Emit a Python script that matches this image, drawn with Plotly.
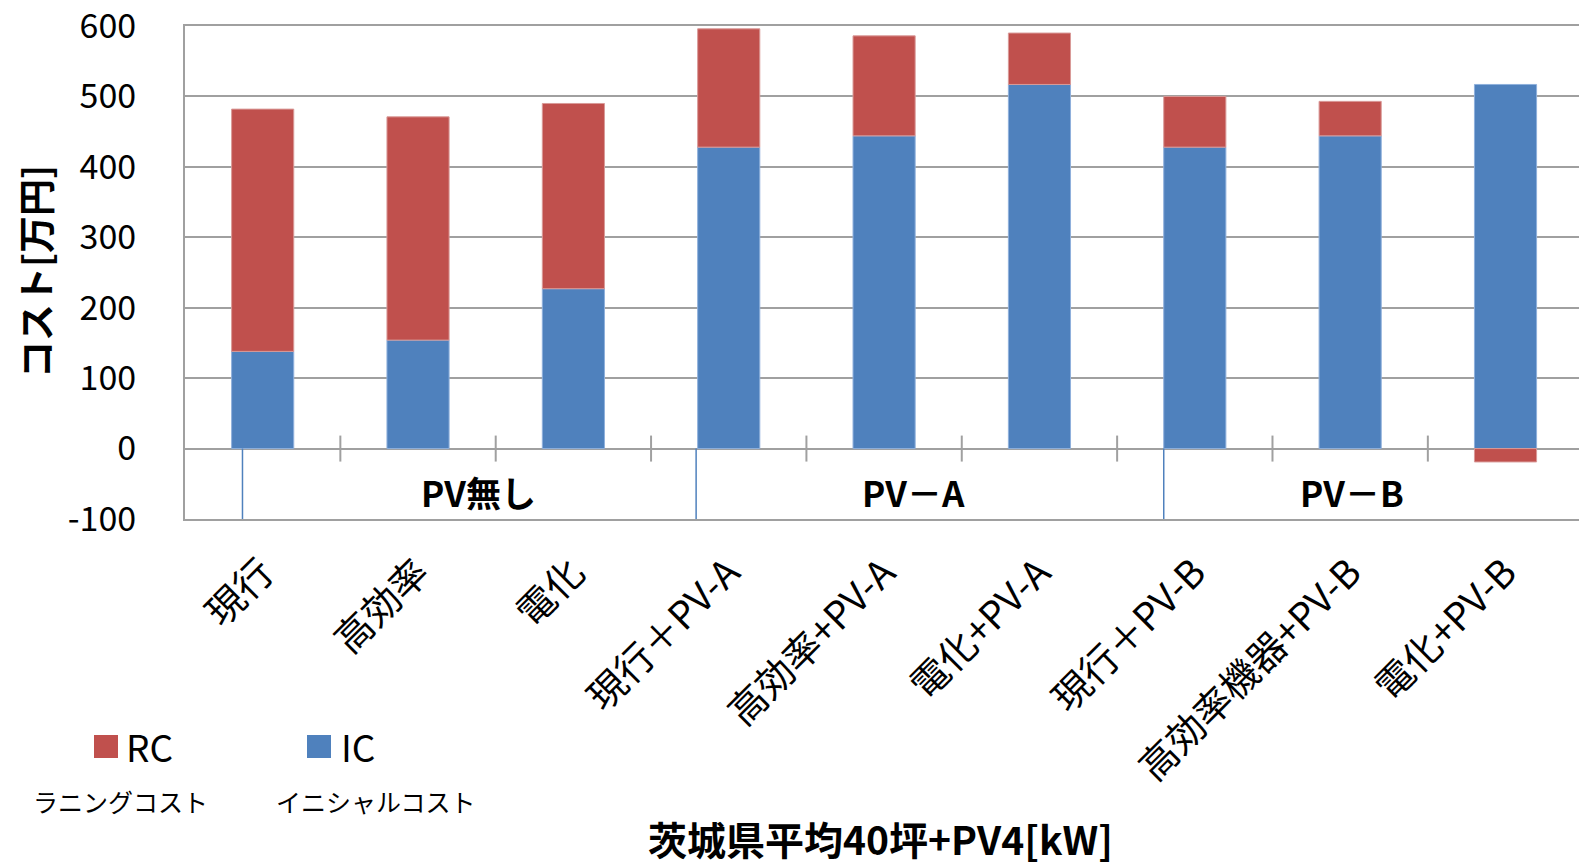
import plotly.graph_objects as go

# Cost breakdown per case (万円)
categories = ["現行", "高効率", "電化",
              "現行＋PV-A", "高効率+PV-A", "電化+PV-A",
              "現行＋PV-B", "高効率機器+PV-B", "電化+PV-B"]
ic_values = [138, 154, 227, 428, 444, 517, 428, 444, 517]   # イニシャルコスト
rc_values = [344, 317, 263, 168, 142, 73, 72, 49, -19]      # ラニングコスト
group_names = ["PV無し", "PV－A", "PV－B"]
y_ticks = [-100, 0, 100, 200, 300, 400, 500, 600]

BLUE = "#4f81bd"
RED = "#c0504d"
GRID = "#a0a0a0"
FONT = "Noto Sans CJK JP"

W, H = 1579, 867
ML, MR, MT, MB = 185, 0, 26, 348
PW, PH = W - ML - MR, H - MT - MB


def px_x(px):
    return (px - ML) / PW


def px_y(py):
    return (H - MB - py) / PH


def label(px, py, text, size, xanchor="center", angle=0):
    return dict(x=px_x(px), y=px_y(py), xref="paper", yref="paper", text=text,
                xanchor=xanchor, yanchor="middle", textangle=angle, showarrow=False,
                font=dict(family=FONT, size=size, color="black"))


x_pos = list(range(len(categories)))

fig = go.Figure()
fig.add_trace(go.Bar(
    x=x_pos, y=ic_values, name="IC", marker_color=BLUE,
    marker_line=dict(color="#8fb0dc", width=1), width=0.4, showlegend=False,
))
fig.add_trace(go.Bar(
    x=x_pos, y=rc_values, name="RC", marker_color=RED,
    marker_line=dict(color="#d99a98", width=1), width=0.4, showlegend=False,
))

shapes = []
# category boundary ticks crossing the zero line
for b in range(len(categories) - 1):
    shapes.append(dict(type="line", xref="x", yref="y", ysizemode="pixel", yanchor=0,
                       x0=b + 0.5, x1=b + 0.5, y0=-13, y1=13,
                       line=dict(color=GRID, width=2), layer="above"))
# group separators below the zero line
for sx in [-0.13, 2.79, 5.80]:
    shapes.append(dict(type="line", xref="x", yref="y", x0=sx, x1=sx, y0=0, y1=-100,
                       line=dict(color=BLUE, width=1.5)))

# legend swatches
shapes.append(dict(type="rect", xref="paper", yref="paper",
                   x0=px_x(94), x1=px_x(118), y0=px_y(758), y1=px_y(735),
                   fillcolor=RED, line=dict(width=0)))
shapes.append(dict(type="rect", xref="paper", yref="paper",
                   x0=px_x(307), x1=px_x(331), y0=px_y(758), y1=px_y(735),
                   fillcolor=BLUE, line=dict(width=0)))

annotations = []
for name, gx in zip(group_names, [1.39, 4.19, 7.01]):
    annotations.append(dict(x=gx, y=-61, xref="x", yref="y", text=f"<b>{name}</b>",
                            showarrow=False, xanchor="center", yanchor="middle",
                            font=dict(family=FONT, size=35, color="black")))

annotations += [
    label(35, 272, "<b>コスト[万円]</b>", 37, angle=-90),
    label(880, 838, "<b>茨城県平均40坪+PV4[kW]</b>", 39),
    label(124, 746, "RC", 37, xanchor="left"),
    label(339, 746, "IC", 37, xanchor="left"),
    label(120, 801, "ラニングコスト", 25),
    label(376, 801, "イニシャルコスト", 25),
]

fig.update_layout(
    width=W, height=H,
    margin=dict(l=ML, r=MR, t=MT, b=MB, autoexpand=False),
    paper_bgcolor="white", plot_bgcolor="white",
    barmode="relative",
    font=dict(family=FONT, color="black"),
    shapes=shapes, annotations=annotations,
    xaxis=dict(
        range=[-0.5, 8.473], tickmode="array", tickvals=x_pos, ticktext=categories,
        tickangle=-45, tickfont=dict(family=FONT, size=38, color="black"),
        ticklabelstandoff=14, ticklabeloverflow="allow",
        showgrid=False, zeroline=False, ticks="",
        showline=True, linecolor=GRID, linewidth=2, mirror=True,
    ),
    yaxis=dict(
        range=[-100, 600], tickmode="array", tickvals=y_ticks,
        ticktext=[str(v) for v in y_ticks],
        tickfont=dict(family=FONT, size=34, color="black"),
        ticklabeloverflow="allow",
        showgrid=True, gridcolor=GRID, gridwidth=2,
        zeroline=True, zerolinecolor=GRID, zerolinewidth=2,
        showline=True, linecolor=GRID, linewidth=2,
        ticks="inside", ticklen=12, tickcolor=GRID, tickwidth=2,
        ticklabelstandoff=40,
    ),
)

fig.write_html("out.html")
